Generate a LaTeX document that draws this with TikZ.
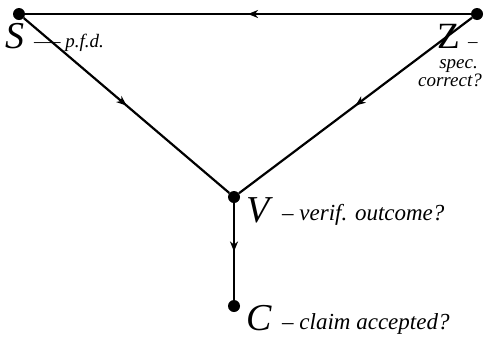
\documentclass[tikz,border=0pt]{standalone}
\usepackage{fontspec}
\setmainfont{Liberation Serif}
\usetikzlibrary{decorations.markings,arrows.meta}
\begin{document}
\begin{tikzpicture}[x=1pt,y=-1pt,
  dot/.style={circle,fill=black,inner sep=0pt,minimum size=12pt},
  edge/.style={line width=2.2pt, postaction={decorate},
    decoration={markings, mark=at position 0.5 with {\arrow{Stealth[length=10pt,width=8pt,inset=3pt]}}}},
  big/.style={anchor=base west, inner sep=0pt, font=\fontsize{38}{38}\selectfont\itshape},
  bigup/.style={anchor=base west, inner sep=0pt, font=\fontsize{37}{37}\selectfont},
  lab/.style={anchor=base west, inner sep=0pt, font=\fontsize{23}{23}\selectfont\itshape},
  slab/.style={inner sep=0pt, font=\fontsize{19}{19}\selectfont\itshape}]
\useasboundingbox (0,0) rectangle (484,338);
\node[dot] (S) at (19,14) {};
\node[dot] (Z) at (477,14) {};
\node[dot] (V) at (234,197) {};
\node[dot] (C) at (234,306) {};
\draw[edge] (Z) -- (S);
\draw[edge] (S) -- (V);
\draw[edge] (Z) -- (V);
\draw[edge] (V) -- (C);
\node[big] (Sl) at (5,48) {S};
\node[slab, anchor=base west] (Sd) at (34,47) {\textemdash\textendash\ p.f.d.};
\node[bigup] (Zl) at (437,48) {Z};
\node[slab, anchor=base west] (Zd) at (468,47) {\textendash};
\node[slab, anchor=base east] (Zs) at (478,68) {spec.};
\node[slab, anchor=base east] (Zc) at (482,86) {correct?};
\node[big] (Vl) at (246,222) {V};
\node[lab] (Vd) at (282,220) {\textendash\ verif. outcome?};
\node[big] (Cl) at (246,330) {C};
\node[lab] (Cd) at (282,329) {\textendash\ claim accepted?};
\end{tikzpicture}
\end{document}
